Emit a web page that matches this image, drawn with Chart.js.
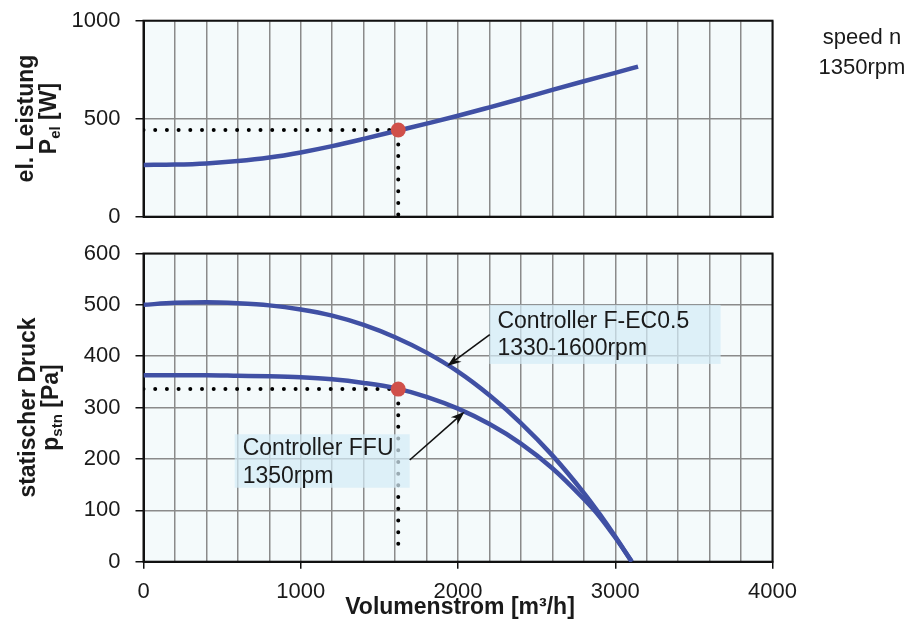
<!DOCTYPE html>
<html>
<head>
<meta charset="utf-8">
<script src="https://cdn.jsdelivr.net/npm/chart.js@4/dist/chart.umd.min.js"></script>
<style>
  html, body { margin: 0; padding: 0; background: #fff; }
  #wrap { position: relative; width: 913px; height: 639px; overflow: hidden; }
  #wrap canvas { position: absolute; left: 0; }
  #top { top: 0; }
  #bottom { top: 240px; }
</style>
</head>
<body>
<div id="wrap">
  <canvas id="top" width="913" height="240"></canvas>
  <canvas id="bottom" width="913" height="399"></canvas>
</div>
<script>
// flow rate [m3/h] and electrical power [W]
const flowPel = [0, 200, 400, 600, 800, 1000, 1200, 1400, 1600, 1800, 2000, 2200, 2400, 2600, 2800, 3000, 3145];
const pel = [264, 266, 272, 284, 302, 328, 360, 397, 436, 475, 515, 558, 602, 647, 691, 734, 766];

// static pressure [Pa], controller F-EC0.5 (1330-1600rpm)
const flowEc = [0, 200, 400, 600, 800, 1000, 1200, 1400, 1600, 1800, 2000, 2200, 2400, 2600, 2800, 2900, 3000, 3105];
const pressureEc = [500, 504, 505, 503, 499, 491, 479, 461, 437, 407, 370, 324, 270, 207, 134, 93, 49, 0];

// static pressure [Pa], controller FFU (1350rpm)
const flowFfu = [0, 200, 400, 600, 800, 1000, 1200, 1400, 1600, 1800, 2000, 2200, 2400, 2600, 2800, 2900, 3000, 3105];
const pressureFfu = [363, 363, 363, 362, 361, 359, 355, 348, 338, 321, 298, 268, 230, 182, 122, 88, 47, 0];

// operating point
const opFlow = 1620;
const opPel = 442;
const opPressure = 336;

// axes
const xTickStep = 200;
const xLabelStep = 1000;
const xMax = 4000;
const pelTicks = [0, 500, 1000];
const pressureTicks = [0, 100, 200, 300, 400, 500, 600];

const FONT = '"Liberation Sans", Arial, Helvetica, sans-serif';
const BLUE = '#4050a4';
const RED = '#d0504a';
const TEXT = '#1a1a1a';
const GRID = '#8a8a8a';

const pts = (xs, ys) => xs.map((x, i) => ({ x, y: ys[i] }));

function rotatedTitle(ctx, baseX, centerY, parts) {
  ctx.save();
  ctx.translate(baseX, centerY);
  ctx.rotate(-Math.PI / 2);
  let total = 0;
  parts.forEach((p) => {
    ctx.font = `bold ${p.size}px ${FONT}`;
    p.w = ctx.measureText(p.text).width;
    total += p.w;
  });
  let x = -total / 2;
  ctx.textAlign = 'left';
  ctx.textBaseline = 'alphabetic';
  ctx.fillStyle = TEXT;
  parts.forEach((p) => {
    ctx.font = `bold ${p.size}px ${FONT}`;
    ctx.fillText(p.text, x, p.shift || 0);
    x += p.w;
  });
  ctx.restore();
}

function arrow(ctx, x1, y1, x2, y2) {
  const a = Math.atan2(y2 - y1, x2 - x1);
  const len = 14, half = 5;
  const c = Math.cos(a), s = Math.sin(a);
  ctx.save();
  ctx.strokeStyle = '#111';
  ctx.fillStyle = '#111';
  ctx.lineWidth = 1.6;
  ctx.beginPath();
  ctx.moveTo(x1, y1);
  ctx.lineTo(x2 - c * len * 0.7, y2 - s * len * 0.7);
  ctx.stroke();
  ctx.beginPath();
  ctx.moveTo(x2, y2);
  ctx.lineTo(x2 - c * len - s * half, y2 - s * len + c * half);
  ctx.lineTo(x2 - c * len * 0.7, y2 - s * len * 0.7);
  ctx.lineTo(x2 - c * len + s * half, y2 - s * len - c * half);
  ctx.closePath();
  ctx.fill();
  ctx.restore();
}

function labelBox(ctx, chart, x0, x1, y0, y1, lines, baselines) {
  const sx = chart.scales.x, sy = chart.scales.y;
  const left = sx.getPixelForValue(x0), right = sx.getPixelForValue(x1);
  const top = sy.getPixelForValue(y1), bottom = sy.getPixelForValue(y0);
  ctx.save();
  ctx.fillStyle = 'rgba(212, 235, 246, 0.72)';
  ctx.fillRect(left, top, right - left, bottom - top);
  ctx.fillStyle = TEXT;
  ctx.font = `23px ${FONT}`;
  ctx.textAlign = 'left';
  ctx.textBaseline = 'alphabetic';
  lines.forEach((t, i) => ctx.fillText(t, left + 8, top + baselines[i]));
  ctx.restore();
}

// background, frame and texts
const framePlugin = {
  id: 'frame',
  beforeDraw(chart) {
    const { ctx, chartArea: a } = chart;
    ctx.save();
    ctx.fillStyle = '#f4fafb';
    ctx.fillRect(a.left, a.top, a.right - a.left, a.bottom - a.top);
    ctx.restore();
  },
  beforeDatasetsDraw(chart) {
    const { ctx, chartArea: a } = chart;
    ctx.save();
    ctx.strokeStyle = '#111';
    ctx.lineWidth = 2;
    ctx.strokeRect(a.left, a.top, a.right - a.left, a.bottom - a.top);
    ctx.restore();
  },
  afterDatasetsDraw(chart, args, opts) {
    const ctx = chart.ctx;
    const sx = chart.scales.x, sy = chart.scales.y;
    if (opts.panel === 'top') {
      rotatedTitle(ctx, 33, 118.5, [{ text: 'el. Leistung', size: 23 }]);
      rotatedTitle(ctx, 56, 118.5, [
        { text: 'P', size: 23 },
        { text: 'el', size: 15, shift: 4 },
        { text: ' [W]', size: 23 },
      ]);
      ctx.save();
      ctx.fillStyle = TEXT;
      ctx.font = `22px ${FONT}`;
      ctx.textAlign = 'center';
      ctx.textBaseline = 'alphabetic';
      ctx.fillText('speed n', 862, 44);
      ctx.fillText('1350rpm', 862, 74);
      ctx.restore();
    } else {
      labelBox(ctx, chart, 2200, 3670, 385, 500, ['Controller F-EC0.5', '1330-1600rpm'], [23.5, 50.5]);
      labelBox(ctx, chart, 580, 1693, 144, 248, ['Controller FFU', '1350rpm'], [21, 49]);
      arrow(ctx, sx.getPixelForValue(2202), sy.getPixelForValue(442), sx.getPixelForValue(1932), sy.getPixelForValue(381));
      arrow(ctx, sx.getPixelForValue(1693), sy.getPixelForValue(198), sx.getPixelForValue(2042), sy.getPixelForValue(292));
      rotatedTitle(ctx, 35, 407.5 - 240, [{ text: 'statischer Druck', size: 23 }]);
      rotatedTitle(ctx, 58, 407.5 - 240, [
        { text: 'p', size: 23 },
        { text: 'stn', size: 15, shift: 4 },
        { text: ' [Pa]', size: 23 },
      ]);
      ctx.save();
      ctx.fillStyle = TEXT;
      ctx.font = `bold 23px ${FONT}`;
      ctx.textAlign = 'center';
      ctx.textBaseline = 'alphabetic';
      ctx.fillText('Volumenstrom [m³/h]', 460, 614 - 240);
      ctx.restore();
    }
  },
};

function curve(data) {
  return {
    data, borderColor: BLUE, borderWidth: 4.5, pointRadius: 0,
    cubicInterpolationMode: 'monotone', fill: false,
  };
}
function dotted(data) {
  return {
    data, borderColor: '#000', borderWidth: 4, borderDash: [0, 11.7], borderCapStyle: 'round',
    pointRadius: 0, tension: 0, fill: false,
  };
}
function marker(x, y) {
  return {
    data: [{ x, y }], showLine: false, pointRadius: 7.5, pointBackgroundColor: RED,
    pointBorderWidth: 0, borderColor: RED,
  };
}

function xScale(showLabels, height) {
  return {
    type: 'linear', min: 0, max: xMax,
    border: { color: '#111', width: 2 },
    grid: {
      color: GRID, lineWidth: 1.5, drawTicks: showLabels, tickLength: 7, tickWidth: 1.5,
      tickColor: (c) => (c.tick && c.tick.value % xLabelStep === 0 ? '#111' : 'rgba(0,0,0,0)'),
    },
    ticks: {
      display: showLabels, stepSize: xTickStep, autoSkip: false, maxRotation: 0, padding: 10,
      color: TEXT, font: { family: FONT, size: 22 },
      callback: (v) => (v % xLabelStep === 0 ? String(v) : ''),
    },
    afterFit: (s) => { s.height = height; s.paddingLeft = 0; s.paddingRight = 0; },
  };
}

function yScale(tickValues) {
  const step = tickValues[1] - tickValues[0];
  return {
    type: 'linear', min: tickValues[0], max: tickValues[tickValues.length - 1],
    border: { color: '#111', width: 2 },
    grid: { color: GRID, lineWidth: 1.5, tickLength: 8, tickColor: '#111', tickWidth: 1.5 },
    ticks: {
      stepSize: step, padding: 15, color: TEXT, font: { family: FONT, size: 22 },
      callback: (v) => String(v),
    },
    afterFit: (s) => { s.width = 143.5; s.paddingTop = 0; s.paddingBottom = 0; },
  };
}

const common = {
  type: 'line',
  plugins: [framePlugin],
};

new Chart(document.getElementById('top'), {
  ...common,
  data: {
    datasets: [
      marker(opFlow, opPel),
      curve(pts(flowPel, pel)),
      dotted([{ x: 0, y: opPel }, { x: opFlow, y: opPel }, { x: opFlow, y: 0 }]),
    ],
  },
  options: {
    responsive: false, animation: false, events: [],
    layout: { padding: { top: 20.7, right: 140.5, left: 0, bottom: 0 } },
    scales: { x: xScale(false, 23.3), y: yScale(pelTicks) },
    plugins: { legend: { display: false }, tooltip: { enabled: false }, frame: { panel: 'top' } },
  },
});

new Chart(document.getElementById('bottom'), {
  ...common,
  data: {
    datasets: [
      marker(opFlow, opPressure),
      curve(pts(flowEc, pressureEc)),
      curve(pts(flowFfu, pressureFfu)),
      dotted([{ x: 0, y: opPressure }, { x: opFlow, y: opPressure }, { x: opFlow, y: 18 }]),
    ],
  },
  options: {
    responsive: false, animation: false, events: [],
    layout: { padding: { top: 13.5, right: 140.5, left: 0, bottom: 0 } },
    scales: { x: xScale(true, 77.3), y: yScale(pressureTicks) },
    plugins: { legend: { display: false }, tooltip: { enabled: false }, frame: { panel: 'bottom' } },
  },
});
</script>
</body>
</html>
